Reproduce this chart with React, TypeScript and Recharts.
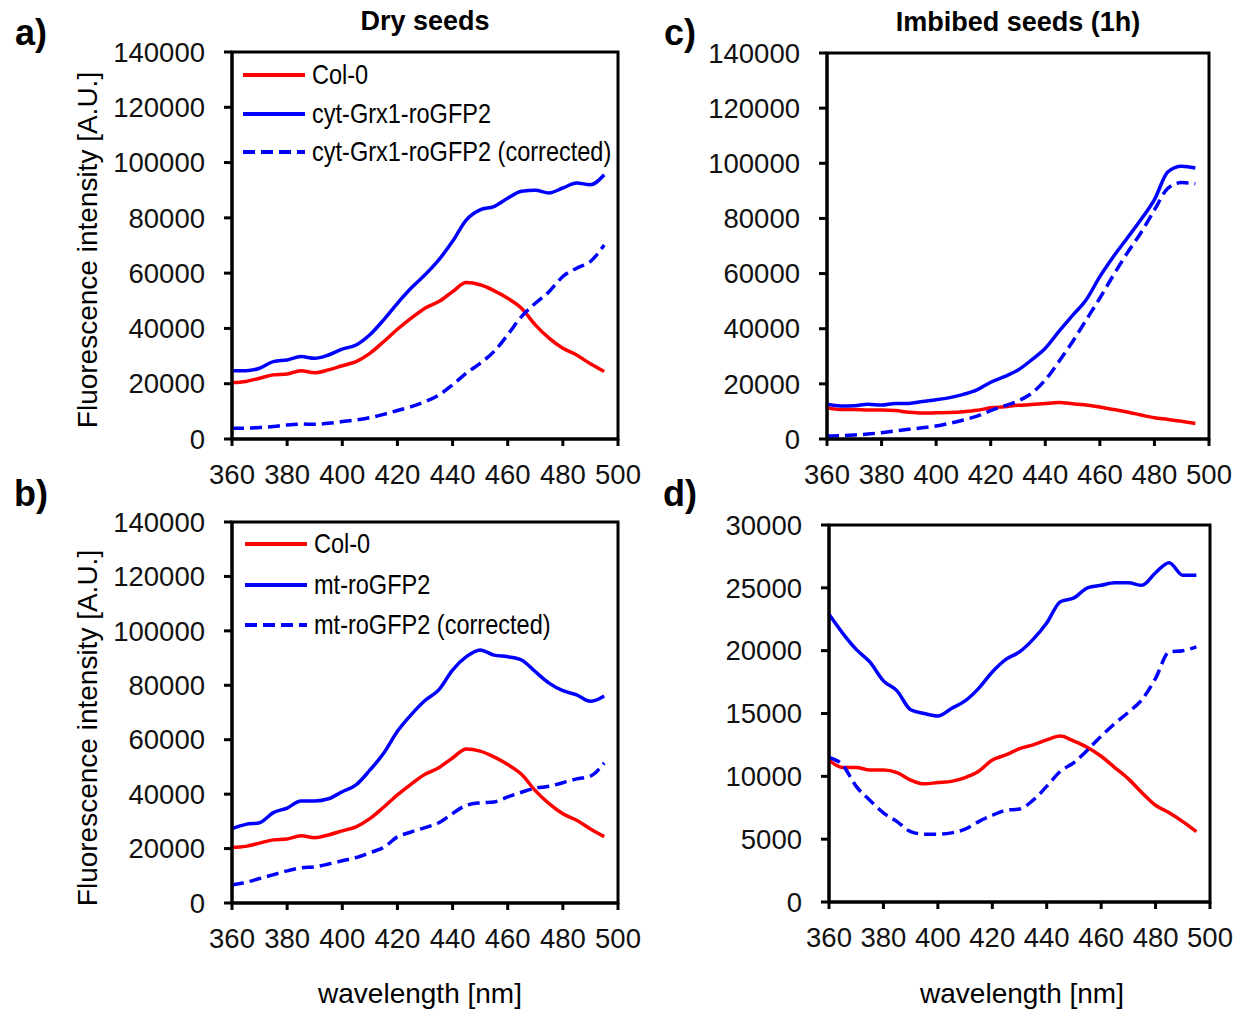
import React from 'react';
import { LineChart, Line, XAxis, YAxis, ReferenceArea } from 'recharts';

// wavelength grid (nm)
const WAVELENGTHS = [360, 365, 370, 375, 380, 385, 390, 395, 400, 405, 410, 415, 420, 425,
  430, 435, 440, 445, 450, 455, 460, 465, 470, 475, 480, 485, 490, 495];

const X_TICKS = [360, 380, 400, 420, 440, 460, 480, 500];
const Y_TICKS_BIG = [0, 20000, 40000, 60000, 80000, 100000, 120000, 140000];
const Y_TICKS_SMALL = [0, 5000, 10000, 15000, 20000, 25000, 30000];

// dry seeds
const colDry = [20400, 20800, 22000, 23200, 23500, 24700, 24000, 25000, 26500, 28000, 31000, 35200, 39700, 43700,
  47300, 49700, 53300, 56600, 55800, 53700, 50900, 47300, 41300, 36500, 32800, 30400, 27200, 24400];
const cytDry = [24700, 24700, 25600, 28000, 28600, 29800, 29200, 30400, 32500, 34000, 37700, 43100, 49100, 54600,
  59400, 64800, 71500, 79300, 82900, 84100, 87100, 89600, 90000, 89000, 90800, 92600, 92000, 95600];
const cytDryCorr = [3900, 3900, 4200, 4500, 5100, 5400, 5300, 5700, 6300, 6900, 7700, 8900, 10300, 11700,
  13500, 15900, 19600, 23800, 27400, 31600, 37700, 44300, 49100, 53300, 58800, 61800, 64200, 70200];
const mtDry = [27300, 28900, 29500, 33200, 34900, 37500, 37500, 38300, 40900, 43400, 48800, 55000, 63100, 69200,
  74400, 78300, 85600, 90500, 93000, 91100, 90500, 89300, 85000, 80800, 78000, 76500, 74100, 76100];
const mtDryCorr = [6600, 7600, 9000, 10400, 11800, 12900, 13300, 14300, 15500, 16700, 18500, 20400, 24300, 26100,
  27700, 29500, 32900, 35900, 36800, 37100, 39000, 40700, 42200, 42900, 44200, 45600, 46600, 51500];

// imbibed seeds (1h)
const colImb = [11300, 10700, 10700, 10500, 10500, 10300, 9700, 9400, 9500, 9600, 9900, 10400, 11300, 11700,
  12200, 12500, 12900, 13200, 12800, 12300, 11600, 10700, 9800, 8700, 7700, 7100, 6400, 5600];
const cytImb = [12600, 12000, 12100, 12600, 12300, 12900, 12900, 13600, 14200, 15000, 16200, 17800, 20600, 22600,
  25000, 28700, 32900, 39000, 44800, 50500, 58900, 66200, 72800, 79500, 86800, 97000, 98900, 98300];
const cytImbCorr = [1100, 1200, 1450, 1800, 2300, 2900, 3500, 4100, 4700, 5700, 6900, 8300, 10300, 12000,
  13800, 16600, 21400, 28100, 35300, 43200, 51100, 59500, 67400, 74700, 83100, 91000, 93000, 92600];
const mtImb = [22900, 21400, 20100, 19100, 17600, 16800, 15300, 15000, 14800, 15400, 16000, 17000, 18300, 19300,
  19900, 20900, 22200, 23900, 24200, 25000, 25200, 25400, 25400, 25200, 26200, 27000, 26000, 26000];
const mtImbCorr = [11500, 10900, 9200, 8100, 7100, 6400, 5600, 5400, 5400, 5500, 5800, 6400, 6900, 7300,
  7400, 8100, 9200, 10400, 11100, 12100, 13200, 14200, 15100, 16100, 17800, 19900, 20000, 20300];

const FONT = '"Liberation Sans", Arial, sans-serif';
const RED = '#ff0000';
const BLUE = '#0000ff';

const rows = (col: number[], gfp: number[], corr: number[]) =>
  WAVELENGTHS.map((wl, i) => ({ wl, col: col[i], gfp: gfp[i], corr: corr[i] }));

const Y_W = 130;
const M_TOP = 24;
const M_RIGHT = 30;
const X_H = 60;

function Panel({ L, T, R, B, yMax, yTicks, data }: any) {
  return (
    <div style={{ position: 'absolute', left: L - Y_W, top: T - M_TOP }}>
      <LineChart
        width={Y_W + (R - L) + M_RIGHT}
        height={M_TOP + (B - T) + X_H}
        data={data}
        margin={{ top: M_TOP, right: M_RIGHT, left: 0, bottom: 0 }}
      >
        <XAxis
          dataKey="wl"
          type="number"
          domain={[360, 500]}
          ticks={X_TICKS}
          interval={0}
          height={X_H}
          tickSize={7}
          tickMargin={18}
          axisLine={{ stroke: '#000', strokeWidth: 3 }}
          tickLine={{ stroke: '#000', strokeWidth: 3 }}
          tick={{ fill: '#111', fontSize: 27.5 }}
        />
        <YAxis
          type="number"
          domain={[0, yMax]}
          ticks={yTicks}
          interval={0}
          width={Y_W}
          tickSize={8}
          tickMargin={19}
          axisLine={{ stroke: '#000', strokeWidth: 3 }}
          tickLine={{ stroke: '#000', strokeWidth: 3 }}
          tick={{ fill: '#111', fontSize: 27.5 }}
        />
        <ReferenceArea x1={360} x2={500} y1={0} y2={yMax} fill="none" stroke="#000" strokeWidth={3} />
        <Line type="monotone" dataKey="col" stroke={RED} strokeWidth={3.5} dot={false} isAnimationActive={false} />
        <Line type="monotone" dataKey="gfp" stroke={BLUE} strokeWidth={3.5} dot={false} isAnimationActive={false} />
        <Line type="monotone" dataKey="corr" stroke={BLUE} strokeWidth={3.5} strokeDasharray="12 6" dot={false} isAnimationActive={false} />
      </LineChart>
    </div>
  );
}

function LegendBox({ left, top, gap, items }: any) {
  return (
    <div style={{ position: 'absolute', left, top }}>
      {items.map((it: any, i: number) => (
        <div key={i} style={{ position: 'absolute', left: 0, top: i * gap - 20, height: 40, display: 'flex', alignItems: 'center' }}>
          <svg width={62} height={10}>
            <line x1={0} y1={5} x2={62} y2={5} stroke={it.color} strokeWidth={4} strokeDasharray={it.dashed ? '12 6' : undefined} />
          </svg>
          <span style={{ marginLeft: 7, fontSize: 28, display: 'inline-block', whiteSpace: 'nowrap', transform: 'scaleX(0.84)', transformOrigin: 'left center' }}>
            {it.label}
          </span>
        </div>
      ))}
    </div>
  );
}

const abs = (x: number, y: number, extra: any = {}) => ({
  position: 'absolute' as const, left: x, top: y, transform: 'translate(-50%, -50%)', whiteSpace: 'nowrap' as const, ...extra,
});

export default function App() {
  return (
    <div style={{ position: 'absolute', left: 0, top: 0, width: 1245, height: 1010, background: '#fff', fontFamily: FONT, color: '#000', overflow: 'hidden' }}>
      <Panel L={232} T={52} R={618} B={439} yMax={140000} yTicks={Y_TICKS_BIG} data={rows(colDry, cytDry, cytDryCorr)} />
      <Panel L={232} T={522} R={618} B={903} yMax={140000} yTicks={Y_TICKS_BIG} data={rows(colDry, mtDry, mtDryCorr)} />
      <Panel L={827} T={53} R={1209} B={439} yMax={140000} yTicks={Y_TICKS_BIG} data={rows(colImb, cytImb, cytImbCorr)} />
      <Panel L={829} T={525} R={1210} B={902} yMax={30000} yTicks={Y_TICKS_SMALL} data={rows(colImb, mtImb, mtImbCorr)} />

      <LegendBox left={243} top={75} gap={38.5} items={[
        { label: 'Col-0', color: RED },
        { label: 'cyt-Grx1-roGFP2', color: BLUE },
        { label: 'cyt-Grx1-roGFP2 (corrected)', color: BLUE, dashed: true },
      ]} />
      <LegendBox left={245} top={544} gap={40.5} items={[
        { label: 'Col-0', color: RED },
        { label: 'mt-roGFP2', color: BLUE },
        { label: 'mt-roGFP2 (corrected)', color: BLUE, dashed: true },
      ]} />

      <div style={abs(425, 21, { fontSize: 27, fontWeight: 'bold' })}>Dry seeds</div>
      <div style={abs(1018, 22, { fontSize: 27, fontWeight: 'bold' })}>Imbibed seeds (1h)</div>

      <div style={abs(31, 33, { fontSize: 36, fontWeight: 'bold' })}>a)</div>
      <div style={abs(31, 494, { fontSize: 36, fontWeight: 'bold' })}>b)</div>
      <div style={abs(680, 33, { fontSize: 36, fontWeight: 'bold' })}>c)</div>
      <div style={abs(680, 494, { fontSize: 36, fontWeight: 'bold' })}>d)</div>

      <div style={abs(88, 250, { fontSize: 28, transform: 'translate(-50%, -50%) rotate(-90deg)' })}>Fluorescence intensity [A.U.]</div>
      <div style={abs(88, 728, { fontSize: 28, transform: 'translate(-50%, -50%) rotate(-90deg)' })}>Fluorescence intensity [A.U.]</div>

      <div style={abs(420, 994, { fontSize: 28 })}>wavelength [nm]</div>
      <div style={abs(1022, 994, { fontSize: 28 })}>wavelength [nm]</div>
    </div>
  );
}
